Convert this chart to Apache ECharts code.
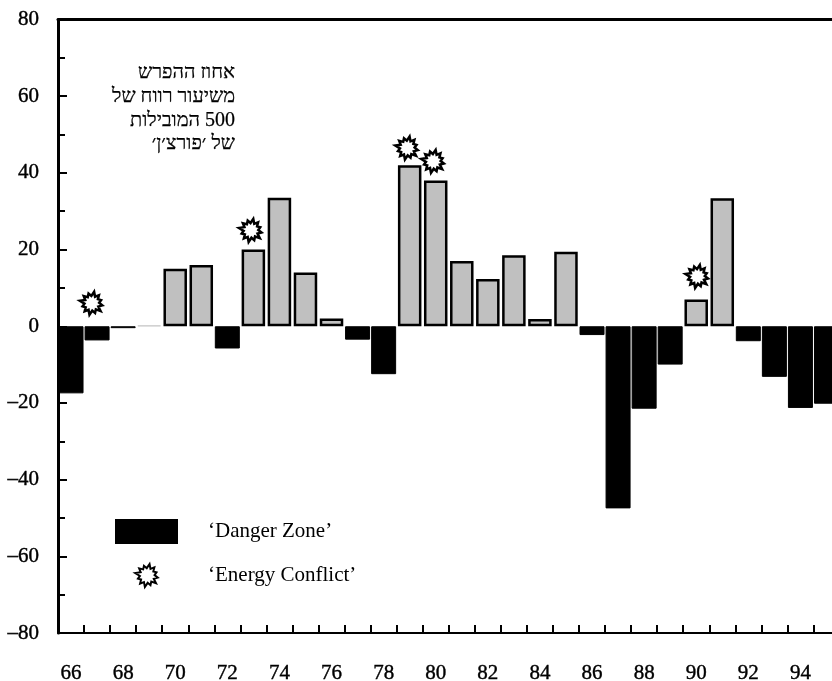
<!DOCTYPE html>
<html lang="he">
<head>
<meta charset="utf-8">
<style>html,body{margin:0;padding:0;background:#fff}#c{width:832px;height:681px}</style>
<script src="https://cdn.jsdelivr.net/npm/echarts@6/dist/echarts.min.js"></script>
</head>
<body>
<div id="c"></div>
<script>
const years = ['66','67','68','69','70','71','72','73','74','75','76','77','78','79','80','81','82','83','84','85','86','87','88','89','90','91','92','93','94','95'];
const profitShare = [-17.5,-3.7,-0.5,0.2,15,16,-5.8,20,33.5,14,2,-3.5,-12.5,42,38,17,12.3,18.5,1.9,19.4,-2.3,-47.5,-21.5,-10,7,33.4,-3.9,-13.2,-21.3,-20.2];
const conflictYears = [66.77,72.88,78.88,79.88,90.02];
const conflictLevels = [6,25,46.5,43,13];
const captionLines = ['אחוז ההפרש','משיעור רווח של','\u202B500 המובילות\u202C','של ׳פורצ׳ן׳'];
const dangerName = '‘Danger Zone’';
const conflictName = '‘Energy Conflict’';
const serif = '"Liberation Serif", serif';

// irregular burst outline used as the conflict symbol
const burstRadii = [11,7.5,12,7.5,10.5,7.5,12,7.5,11,7.5,10,7.5,12.5,7.5,11,7.5,10.5,7.5,12,7.5,11,7.5,10,7.5];
const burstPath = 'path://' + burstRadii.map((r,i)=>{
  const a = i/burstRadii.length*Math.PI*2 + 0.2;
  return (i?'L':'M') + (13+r*Math.cos(a)).toFixed(2) + ' ' + (13+r*Math.sin(a)).toFixed(2);
}).join(' ') + ' Z';

const tickFont = {fontFamily:serif,fontSize:21,color:'#000',textBorderColor:'#000',textBorderWidth:0.4};

const chart = echarts.init(document.getElementById('c'),null,{renderer:'canvas',width:832,height:681});
chart.setOption({
  animation:false,
  backgroundColor:'#fff',
  title:{
    text:captionLines.join('\n'),
    left:230, top:56, textAlign:'right',
    textStyle:{fontFamily:serif,fontSize:20,fontWeight:'normal',color:'#000',lineHeight:23.7,align:'right',textBorderColor:'#000',textBorderWidth:0.25}
  },
  legend:{
    left:110, top:514, orient:'vertical', align:'left',
    itemWidth:61, itemHeight:23, itemGap:19,
    selectedMode:false,
    textStyle:{fontFamily:serif,fontSize:21,color:'#000',padding:[0,0,0,26]},
    data:[{name:dangerName,icon:'rect'},{name:conflictName}]
  },
  grid:{left:58,top:19.5,width:781.5,height:613.5,containLabel:false,outerBoundsMode:'none'},
  xAxis:[
    {type:'category',data:years,position:'bottom',
      axisLine:{onZero:false,lineStyle:{color:'#000',width:2}},
      axisTick:{show:true,inside:true,length:8,interval:0,alignWithLabel:false,lineStyle:{color:'#000',width:2}},
      axisLabel:Object.assign({interval:1,margin:30},tickFont),
      splitLine:{show:false}},
    {type:'value',min:65.5,max:95.5,position:'top',
      axisLine:{show:true,onZero:false,lineStyle:{color:'#000',width:3}},
      axisTick:{show:false},axisLabel:{show:false},splitLine:{show:false}},
    {type:'category',data:years,position:'bottom',show:false}
  ],
  yAxis:{type:'value',min:-80,max:80,interval:20,position:'left',
    axisLine:{show:true,onZero:false,lineStyle:{color:'#000',width:3}},
    axisTick:{show:true,inside:true,length:9,lineStyle:{color:'#000',width:2}},
    minorTick:{show:true,splitNumber:2,length:7,lineStyle:{color:'#000',width:2}},
    axisLabel:Object.assign({margin:19,padding:[3,0,0,0],formatter:v=>v<0?'–'+Math.abs(v):String(v)},tickFont),
    splitLine:{show:false},minorSplitLine:{show:false}},
  series:[
    {name:dangerName,type:'bar',barWidth:25,xAxisIndex:0,
      itemStyle:{color:'#000',borderColor:'#000',borderWidth:1},
      data:profitShare.map(v=>v<0?v:'-')},
    {name:'Share',type:'bar',barWidth:23.5,xAxisIndex:2,z:3,
      itemStyle:{color:'#C0C0C0',borderColor:'#000',borderWidth:2.5},
      data:profitShare.map(v=>v>=0?(v<1?{value:v,itemStyle:{color:'#ccc',borderColor:'#ccc',borderWidth:1}}:v):'-')},
    {name:conflictName,type:'scatter',xAxisIndex:1,symbol:burstPath,symbolKeepAspect:true,symbolSize:23,z:5,
      itemStyle:{color:'#fff',borderColor:'#000',borderWidth:2.5,opacity:1},
      data:conflictYears.map((x,i)=>[x,conflictLevels[i]])}
  ]
});
</script>
</body>
</html>
